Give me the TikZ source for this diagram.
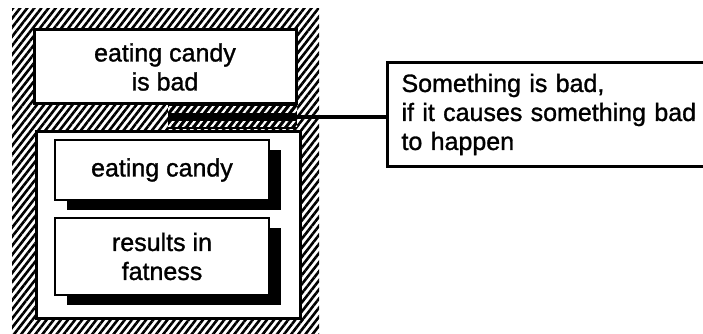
\documentclass[tikz,border=0pt]{standalone}
\usepackage{fontspec}
\setmainfont{Liberation Sans}[FakeBold=1.2]
\usetikzlibrary{patterns.meta,shadows}
\begin{document}
\begin{tikzpicture}[x=1pt,y=-1pt,
  hatch/.style={pattern={Lines[angle=52,distance=5.6pt,line width=2.6pt]}},
  whitehatch/.style={pattern={Lines[angle=52,distance=5.6pt,line width=2.2pt]},pattern color=white},
  txt/.style={font=\fontsize{25}{29}\selectfont},
  frame/.style={draw,line width=3pt,fill=white,inner sep=0pt},
  card/.style={draw,line width=2.5pt,fill=white,inner sep=0pt,align=center,txt,
    drop shadow={shadow xshift=12pt,shadow yshift=-10pt,fill=black,opacity=1}},
  rulebox/.style={draw,line width=3pt,fill=white,align=left,txt,
    text width=314pt,inner xsep=14pt,minimum height=104pt,anchor=north west}]
\useasboundingbox (0,0) rectangle (703,334);
% hatched context frame
\fill[hatch] (12,9) rectangle (319,334);
% link band between the claim and its grounds
\fill (168,105) rectangle (297,129);
\fill[whitehatch] (168,107) rectangle (297,112);
\fill[whitehatch] (168,121) rectangle (297,126);
% claim
\node[frame,txt,align=center,minimum width=262pt,minimum height=74pt] (claim) at (165,67) {eating candy\\is bad};
% grounds
\node[frame,minimum width=264pt,minimum height=187pt] (ground) at (168,224.5) {};
\node[card,minimum width=214pt,minimum height=60pt] (act) at (162,170) {eating candy};
\node[card,minimum width=214pt,minimum height=77pt] (effect) at (162,256.5) {results in\\fatness};
% warrant
\node[rulebox] (rule) at (386,61) {Something is bad,\\if it causes something bad\\to happen};
\coordinate (tap) at (168,117);
\draw[line width=4pt] (tap) -- (tap -| rule.west);
\end{tikzpicture}
\end{document}
